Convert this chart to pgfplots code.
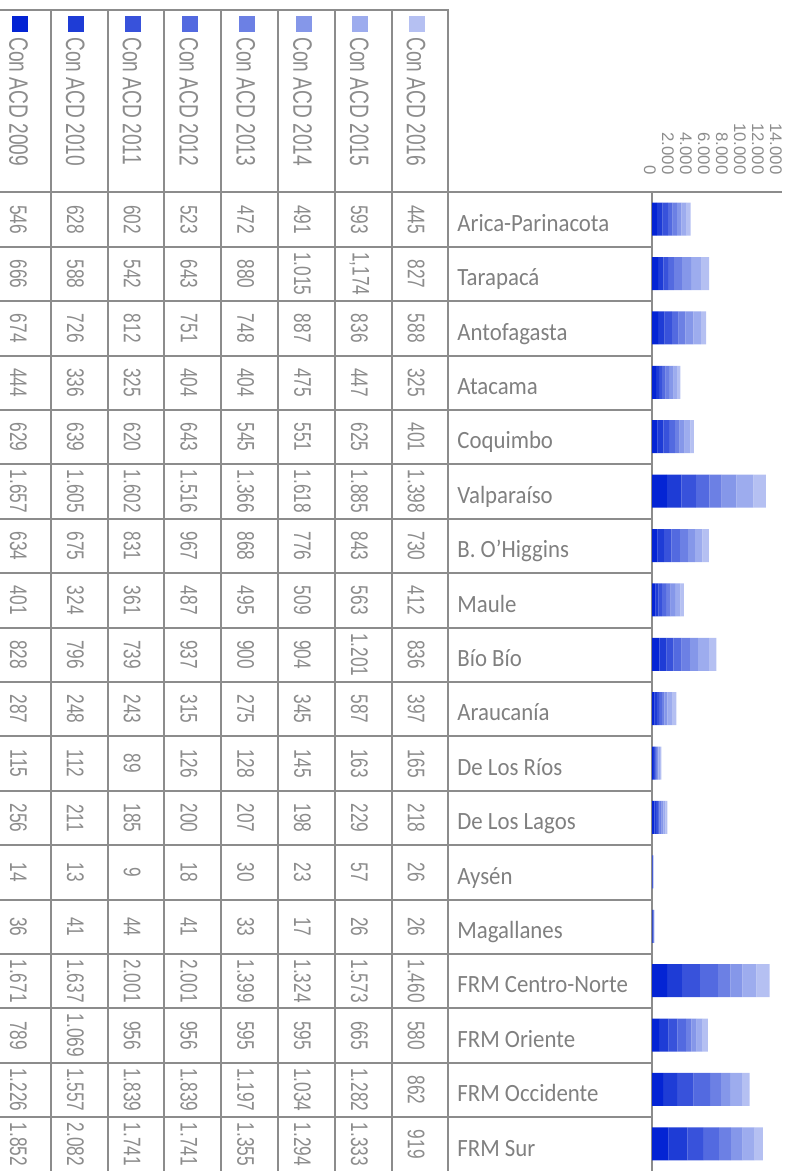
\documentclass[border=0pt]{standalone}
\usepackage{pgfplots}
\pgfplotsset{compat=1.18}
\usepackage{pgfplotstable}
\usepackage{fontspec}
\setmainfont{Liberation Sans}
\newfontfamily\numfont[FakeStretch=0.72]{Liberation Sans}
\newfontfamily\labfont[FakeStretch=0.92]{Carlito}
\newcommand\numsz{\numfont\fontsize{12}{13}\selectfont}
\newcommand\headsz{\numfont\fontsize{13.3}{14}\selectfont}
\newcommand\labsz{\labfont\fontsize{12.4}{13}\selectfont}
\newcommand\ticksz{\fontsize{8.4}{9}\selectfont}
\definecolor{c0}{RGB}{4,36,212}
\definecolor{c1}{RGB}{30,60,214}
\definecolor{c2}{RGB}{56,82,219}
\definecolor{c3}{RGB}{83,106,224}
\definecolor{c4}{RGB}{108,128,228}
\definecolor{c5}{RGB}{133,151,233}
\definecolor{c6}{RGB}{157,172,238}
\definecolor{c7}{RGB}{181,192,242}
\definecolor{txt}{RGB}{128,128,128}
\definecolor{txtl}{RGB}{140,140,140}
\definecolor{rule}{RGB}{140,140,140}

% numeric values (years 2009..2016) per region
\pgfplotstableread{
row a0 a1 a2 a3 a4 a5 a6 a7
0 546 628 602 523 472 491 593 445
1 666 588 542 643 880 1015 1174 827
2 674 726 812 751 748 887 836 588
3 444 336 325 404 404 475 447 325
4 629 639 620 643 545 551 625 401
5 1657 1605 1602 1516 1366 1618 1885 1398
6 634 675 831 967 868 776 843 730
7 401 324 361 487 495 509 563 412
8 828 796 739 937 900 904 1201 836
9 287 248 243 315 275 345 587 397
10 115 112 89 126 128 145 163 165
11 256 211 185 200 207 198 229 218
12 14 13 9 18 30 23 57 26
13 36 41 44 41 33 17 26 26
14 1671 1637 2001 2001 1399 1324 1573 1460
15 789 1069 956 956 595 595 665 580
16 1226 1557 1839 1839 1197 1034 1282 862
17 1852 2082 1741 1741 1355 1294 1333 919
}\bars

% the same values as printed in the table cells
\pgfplotstableread{
row c0 c1 c2 c3 c4 c5 c6 c7
0 546 628 602 523 472 491 593 445
1 666 588 542 643 880 1.015 1,174 827
2 674 726 812 751 748 887 836 588
3 444 336 325 404 404 475 447 325
4 629 639 620 643 545 551 625 401
5 1.657 1.605 1.602 1.516 1.366 1.618 1.885 1.398
6 634 675 831 967 868 776 843 730
7 401 324 361 487 495 509 563 412
8 828 796 739 937 900 904 1.201 836
9 287 248 243 315 275 345 587 397
10 115 112 89 126 128 145 163 165
11 256 211 185 200 207 198 229 218
12 14 13 9 18 30 23 57 26
13 36 41 44 41 33 17 26 26
14 1.671 1.637 2.001 2.001 1.399 1.324 1.573 1.460
15 789 1.069 956 956 595 595 665 580
16 1.226 1.557 1.839 1.839 1.197 1.034 1.282 862
17 1.852 2.082 1.741 1.741 1.355 1.294 1.333 919
}\disp

\begin{document}
\begin{tikzpicture}
\useasboundingbox (0,0) rectangle (402.5pt,585.5pt);
\begin{axis}[at={(0pt,0pt)}, anchor=south west, scale only axis,
  width=402.5pt, height=585.5pt, xmin=0, xmax=805, ymin=0, ymax=1171,
  y dir=reverse, hide axis, clip=false]
  % table rules
  \draw[rule, line width=1pt] (axis cs:-2,10.5) -- (axis cs:449,10.5);
  \pgfplotsinvokeforeach{0,...,7}{
    \draw[rule, line width=1pt] (axis cs:{50.7+56.8*#1},10) -- (axis cs:{50.7+56.8*#1},1172);
  }
  \draw[rule, line width=1pt] (axis cs:651.5,192.3) -- (axis cs:651.5,1172);
  \draw[rule, line width=1pt] (axis cs:-2,192.3) -- (axis cs:782,192.3);
  \pgfplotsinvokeforeach{1,...,17}{
    \draw[rule, line width=1pt] (axis cs:-2,{192.3+54.4*#1}) -- (axis cs:651.5,{192.3+54.4*#1});
  }
  % header legend squares
  \addplot[only marks, mark=square*, mark size=3.75pt, color=c0] coordinates {(19.5,23.5)};
  \addplot[only marks, mark=square*, mark size=3.75pt, color=c1] coordinates {(76.3,23.5)};
  \addplot[only marks, mark=square*, mark size=3.75pt, color=c2] coordinates {(133.1,23.5)};
  \addplot[only marks, mark=square*, mark size=3.75pt, color=c3] coordinates {(189.9,23.5)};
  \addplot[only marks, mark=square*, mark size=3.75pt, color=c4] coordinates {(246.7,23.5)};
  \addplot[only marks, mark=square*, mark size=3.75pt, color=c5] coordinates {(303.5,23.5)};
  \addplot[only marks, mark=square*, mark size=3.75pt, color=c6] coordinates {(360.3,23.5)};
  \addplot[only marks, mark=square*, mark size=3.75pt, color=c7] coordinates {(417.1,23.5)};
  % header texts
  \pgfplotsinvokeforeach{2009,...,2016}{
    \node[rotate=-90, anchor=west, inner sep=0pt, text=txtl, font=\headsz]
      at (axis cs:{18.5+56.8*(#1-2009)},37) {Con ACD #1};
  }
  % cell values
  \pgfplotsinvokeforeach{0,...,7}{
    \addplot[draw=none, mark=none, nodes near coords, point meta=explicit symbolic,
      nodes near coords style={rotate=-90, anchor=center, inner sep=0pt, text=txtl, font=\numsz}]
      table[x expr={18.5+56.8*#1}, y expr={192.3+54.4*(\thisrow{row}+0.5)}, meta=c#1] {\disp};
  }
\end{axis}
\begin{axis}[at={(326pt,489.5pt)}, anchor=north west, scale only axis,
  width=63pt, height=489.5pt, xmin=0, xmax=14000, ymin=-0.5, ymax=17.5,
  y dir=reverse, xbar stacked, bar width=16.5pt,
  axis line style={draw=none}, major tick length=0pt, tick style={draw=none},
  scaled x ticks=false,
  xtick={0,2000,4000,6000,8000,10000,12000,14000},
  xticklabels={0,2.000,4.000,6.000,8.000,10.000,12.000,14.000},
  xticklabel pos=upper,
  xticklabel style={font=\ticksz, text=txtl, yshift=8.5pt, xshift=-1pt, rotate=-90, anchor=east, inner sep=0pt},
  ytick={0,...,17},
  yticklabels={Arica-Parinacota,Tarapacá,Antofagasta,Atacama,Coquimbo,Valparaíso,B. O’Higgins,Maule,Bío Bío,Araucanía,De Los Ríos,De Los Lagos,Aysén,Magallanes,FRM Centro-Norte,FRM Oriente,FRM Occidente,FRM Sur},
  yticklabel style={font=\labsz, text=txt, anchor=base west, inner sep=0pt, xshift=-97.5pt, yshift=-6.1pt},
  clip=false]
  \pgfplotsinvokeforeach{0,...,7}{
    \addplot[fill=c#1, draw=none] table[x=a#1, y=row] {\bars};
  }
\end{axis}
\end{tikzpicture}
\end{document}
